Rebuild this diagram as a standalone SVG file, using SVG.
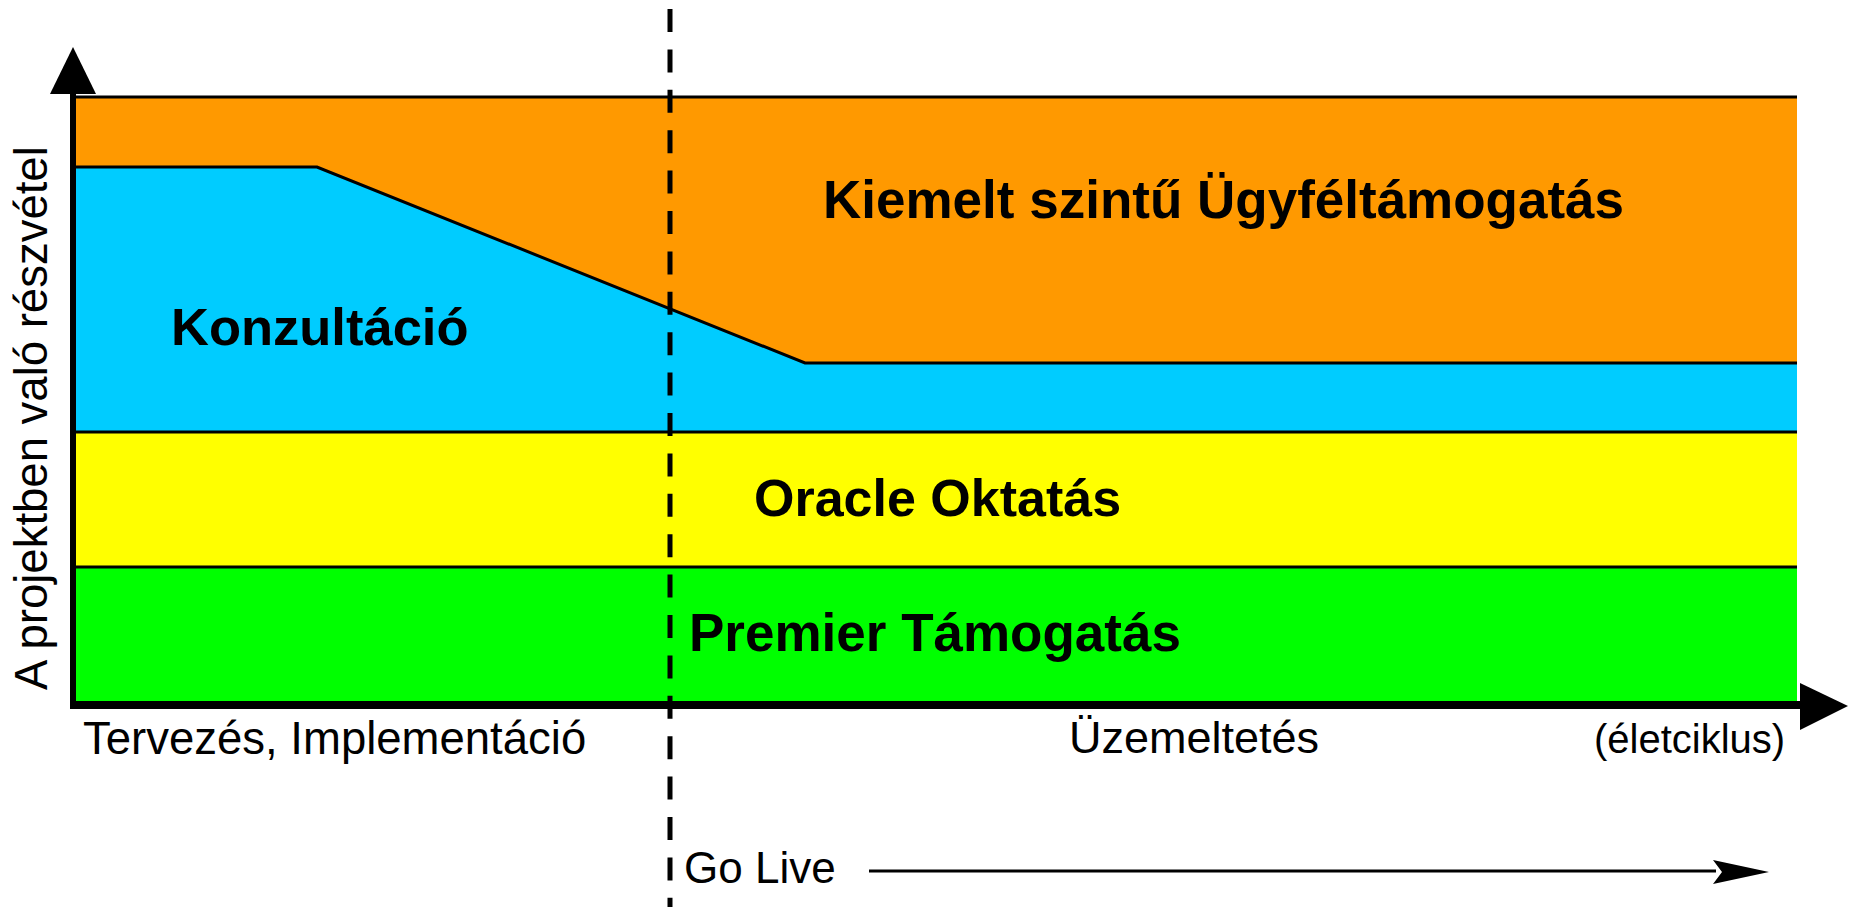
<svg xmlns="http://www.w3.org/2000/svg" width="1850" height="907" viewBox="0 0 1850 907">
  <style>
    .band-line { stroke: #000; stroke-width: 3; fill: none; }
    .bold { font-family: "Liberation Sans", Arial, sans-serif; font-weight: bold; fill: #000; }
    .reg { font-family: "Liberation Sans", Arial, sans-serif; fill: #000; }
  </style>
  <rect width="1850" height="907" fill="#fff"/>

  <g id="band-kiemelt">
    <rect x="74" y="97" width="1723" height="335" fill="#FF9900"/>
    <text class="bold" x="823" y="218" font-size="53">Kiemelt szintű Ügyféltámogatás</text>
  </g>
  <g id="band-konzultacio">
    <polygon points="74,167 317,167 805,363 1797,363 1797,432 74,432" fill="#00CCFF"/>
    <text class="bold" x="171" y="345" font-size="52.5">Konzultáció</text>
  </g>
  <g id="band-oktatas">
    <rect x="74" y="432" width="1723" height="135" fill="#FFFF00"/>
    <text class="bold" x="754" y="516" font-size="52">Oracle Oktatás</text>
  </g>
  <g id="band-premier">
    <rect x="74" y="567" width="1723" height="137" fill="#00FF00"/>
    <text class="bold" x="689" y="651" font-size="53">Premier Támogatás</text>
  </g>

  <g id="borders">
    <line class="band-line" x1="74" y1="97" x2="1797" y2="97"/>
    <polyline class="band-line" points="74,167 317,167 805,363 1797,363"/>
    <line class="band-line" x1="74" y1="432" x2="1797" y2="432"/>
    <line class="band-line" x1="74" y1="567" x2="1797" y2="567"/>
  </g>

  <g id="golive-divider">
    <line x1="670" y1="9" x2="670" y2="907" stroke="#000" stroke-width="5" stroke-dasharray="23 17.4"/>
  </g>

  <g id="axes">
    <line x1="73" y1="92" x2="73" y2="709" stroke="#000" stroke-width="6"/>
    <polygon points="73,47 50,94 96,94" fill="#000"/>
    <line x1="70" y1="705" x2="1802" y2="705" stroke="#000" stroke-width="8"/>
    <polygon points="1848,706 1800,683 1800,730" fill="#000"/>
    <text class="reg" font-size="45.5" transform="translate(47,690) rotate(-90)">A projektben való részvétel</text>
  </g>

  <g id="phase-labels">
    <text class="reg" x="83" y="754" font-size="45.5">Tervezés, Implementáció</text>
    <text class="reg" x="1069" y="753" font-size="45">Üzemeltetés</text>
    <text class="reg" x="1594" y="753" font-size="40">(életciklus)</text>
  </g>

  <g id="golive">
    <text class="reg" x="684" y="883" font-size="44">Go Live</text>
  </g>

  <g id="connectors">
    <line x1="869" y1="871" x2="1716" y2="871" stroke="#000" stroke-width="3"/>
    <polygon points="1769,872 1713,860 1722,872 1713,884" fill="#000"/>
  </g>
</svg>
